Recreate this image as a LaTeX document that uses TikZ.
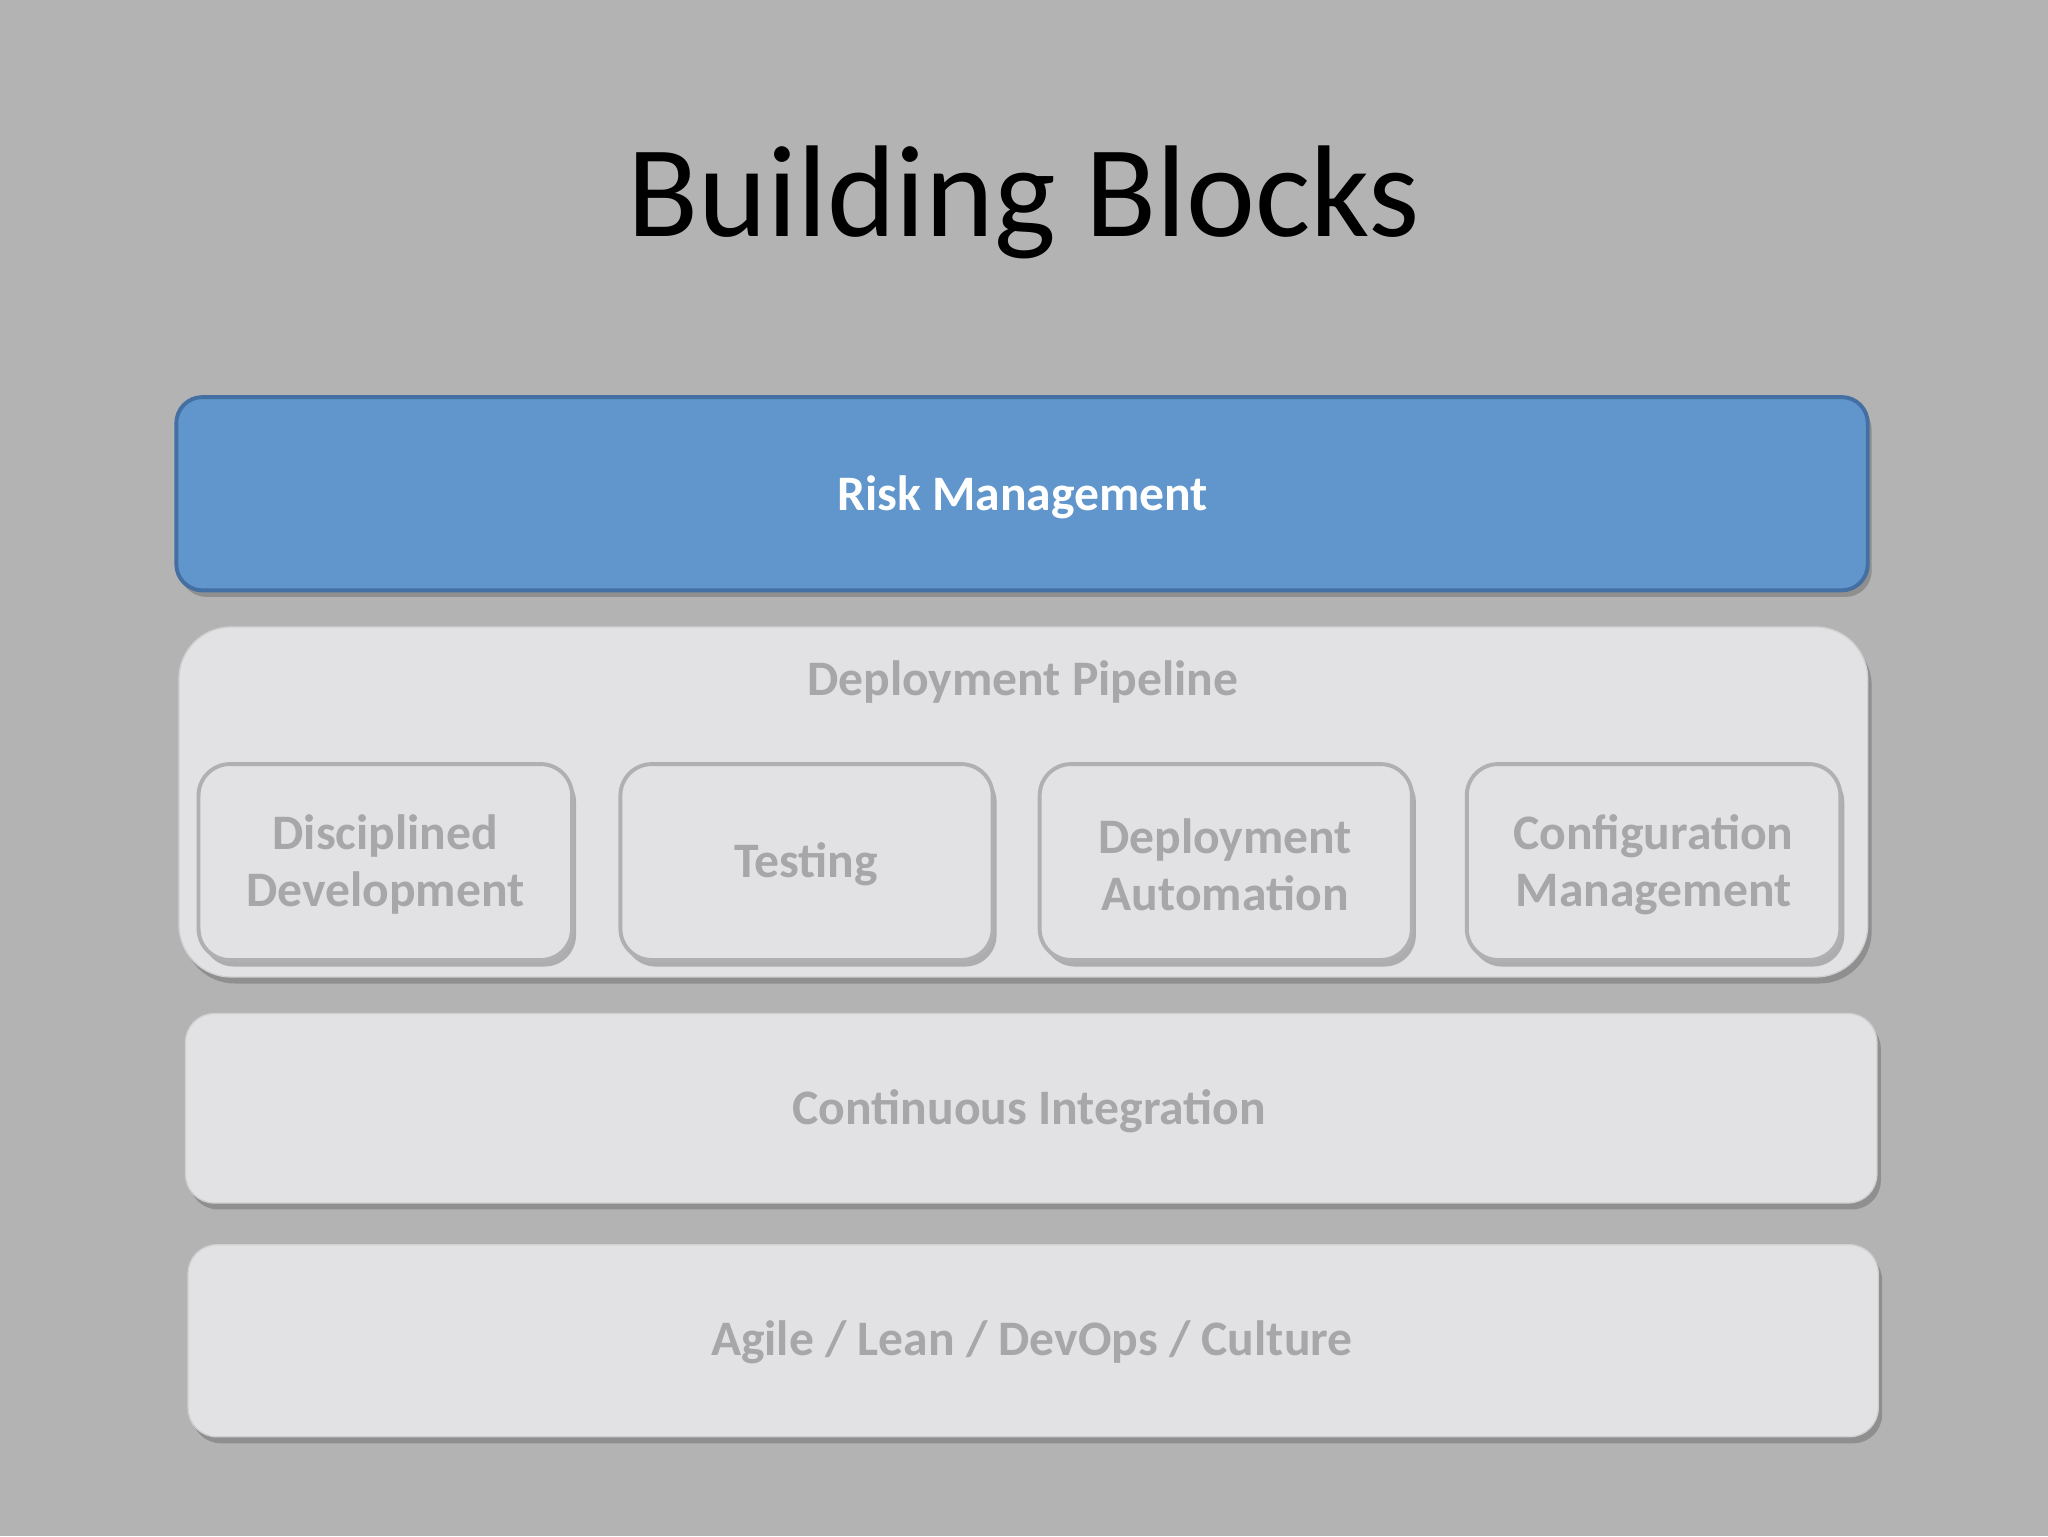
\documentclass[tikz,border=0pt]{standalone}
\usepackage{fontspec}
\setmainfont{Carlito}
\usetikzlibrary{shadows}
\definecolor{bg}{HTML}{B3B3B3}
\definecolor{riskfill}{HTML}{6096CB}
\definecolor{riskline}{HTML}{446FA3}
\definecolor{boxfill}{HTML}{E2E1E4}
\definecolor{boxline}{HTML}{B0B0B2}
\definecolor{txt}{HTML}{A7A7A9}
\tikzset{
  x=1pt,y=-1pt,
  shad/.style={drop shadow={opacity=0.35,shadow xshift=3pt,shadow yshift=-5pt,fill=black!70}},
  layer/.style={shad,fill=boxfill,draw=boxline!60,line width=1pt,rounded corners=22pt},
  inner/.style={shad,fill=boxfill,draw=boxline,line width=3pt,rounded corners=24pt},
  lbl/.style={font=\fontsize{38}{44}\selectfont\bfseries,text=txt,align=center},
}
\begin{document}
\begin{tikzpicture}
\fill[bg] (0,0) rectangle (1568,1176);
\useasboundingbox (0,0) rectangle (1568,1176);
\node (title) at (784,155) {\fontsize{100}{110}\selectfont Building Blocks};
% risk
\draw[shad,fill=riskfill,draw=riskline,line width=3pt,rounded corners=20pt] (135,304) rectangle (1430,452);
\node[font=\fontsize{38}{44}\selectfont\bfseries,text=white] (risk) at (783,381) {Risk Management};
% pipeline
\draw[layer,rounded corners=40pt] (137,480) rectangle (1430,748);
\node[lbl] (pipe) at (783,522) {Deployment Pipeline};
\draw[inner] (152,585) rectangle (438,735);
\node[lbl] (dd) at (295,662) {Disciplined\\Development};
\draw[inner] (475,585) rectangle (760,735);
\node[lbl] (test) at (617,662) {Testing};
\draw[inner] (796,585) rectangle (1081,735);
\node[lbl] (da) at (938,662) {Deployment\\Automation};
\draw[inner] (1123,585) rectangle (1409,735);
\node[lbl] (cm) at (1266,662) {Configuration\\Management};
% CI
\draw[layer] (142,776) rectangle (1437,921);
\node[lbl] (ci) at (788,851) {Continuous Integration};
% Agile
\draw[layer] (144,953) rectangle (1438,1100);
\node[lbl] (ag) at (790,1028) {Agile / Lean / DevOps / Culture};
\end{tikzpicture}
\end{document}
